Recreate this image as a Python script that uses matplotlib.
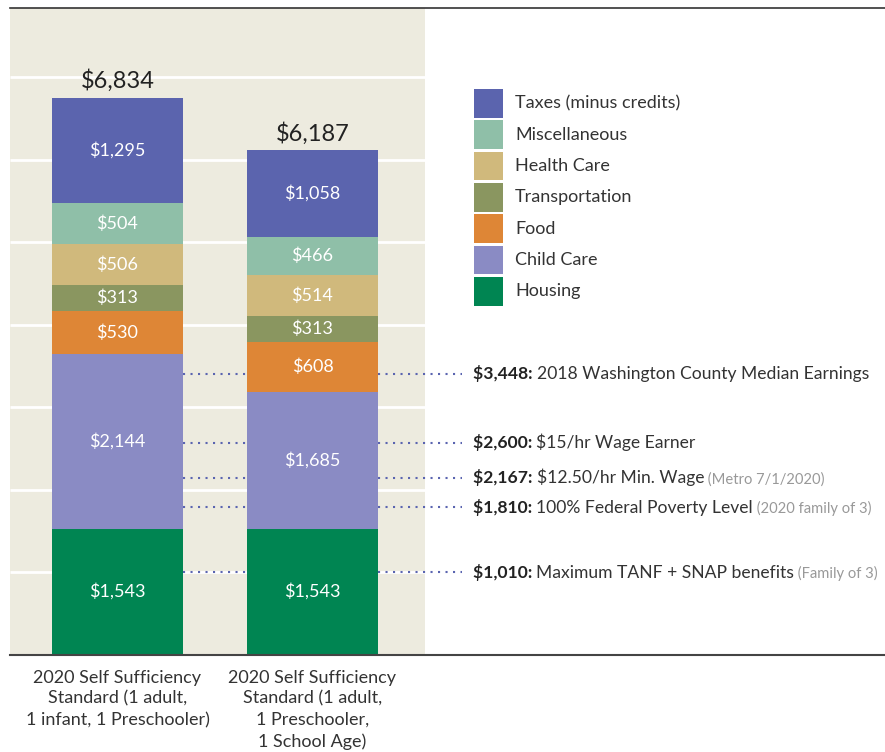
import matplotlib.pyplot as plt
from matplotlib.patches import Rectangle
import numpy as np

plt.rcParams['font.family'] = ['Lato', 'DejaVu Sans']

# data
groups = ["2020 Self Sufficiency\nStandard (1 adult,\n1 infant, 1 Preschooler)",
          "2020 Self Sufficiency\nStandard (1 adult,\n1 Preschooler,\n1 School Age)"]
categories = ["Housing", "Child Care", "Food", "Transportation",
              "Health Care", "Miscellaneous", "Taxes (minus credits)"]
bar1 = [1543, 2144, 530, 313, 506, 504, 1295]
bar2 = [1543, 1685, 608, 313, 514, 466, 1058]
totals = [6834, 6187]
colors = ["#008552", "#8a8bc4", "#de8636", "#8a9660",
          "#d0b97c", "#8fbfa8", "#5b64ae"]

ref_values = [3448, 2600, 2167, 1810, 1010]
ref_bold = ["$3,448:", "$2,600:", "$2,167:", "$1,810:", "$1,010:"]
ref_text = ["2018 Washington County Median Earnings", "$15/hr Wage Earner",
            "$12.50/hr Min. Wage", "100% Federal Poverty Level",
            "Maximum TANF + SNAP benefits"]
ref_note = ["", "", "(Metro 7/1/2020)", "(2020 family of 3)", "(Family of 3)"]

W, H = 885, 752
fig = plt.figure(figsize=(W / 100, H / 100), dpi=100)
ax = fig.add_axes([10 / W, (H - 654.5) / H, 875 / W, 646.5 / H])

x = np.arange(len(groups))
width = 0.672
ax.set_xlim(-0.551, 3.936)
ax.set_ylim(0, 7935)

# beige panel + white grid (decorative, slightly wider than $1000 steps)
beige_right = 1.577
grid_step = 1012
ax.axvspan(-0.551, beige_right, color="#edebdf", zorder=0, lw=0)
ax.hlines(np.arange(1, 8) * grid_step, -0.551, beige_right, color="white", lw=2, zorder=1)

# dotted reference lines
ax.hlines(ref_values, width / 2, 1.767, colors="#5a64b0", lw=1.5,
          linestyles=(0, (1, 2.6)), zorder=1.5)

# stacked bars
bottom = np.zeros(len(groups))
for cat, col, v1, v2 in zip(categories, colors, bar1, bar2):
    vals = np.array([v1, v2])
    bars = ax.bar(x, vals, width, bottom=bottom, color=col, zorder=2, lw=0)
    ax.bar_label(bars, labels=[f"${v:,}" for v in vals], label_type="center",
                 color="white", fontsize=13)
    bottom += vals

for xi, t, b in zip(x, totals, bottom):
    ax.annotate(f"${t:,}", (xi, b), xytext=(0, 4), textcoords="offset points",
                ha="center", va="bottom", fontsize=17, color="#222222")

# reference labels
lx = 1.823
for v, b, t, n in zip(ref_values, ref_bold, ref_text, ref_note):
    t1 = ax.text(lx, v, b + " ", fontsize=12.6, fontweight="bold", color="#222222",
                 va="center", ha="left")
    t2 = ax.annotate(t, xy=(1, 0), xycoords=t1, va="bottom", ha="left",
                     fontsize=12.6, color="#333333")
    if n:
        ax.annotate(" " + n, xy=(1, 0), xycoords=t2, va="bottom", ha="left",
                    fontsize=10.6, color="#999999")

# legend
for i, (cat, col) in enumerate(zip(categories[::-1], colors[::-1])):
    top = 89 + i * 31.3
    fig.add_artist(Rectangle((474 / W, (H - top - 28.7) / H), 28.7 / W, 28.7 / H,
                             transform=fig.transFigure, color=col, lw=0))
    fig.text(515 / W, (H - top - 14.5) / H, cat, fontsize=13, color="#333333",
             va="center", ha="left")

# axes styling
ax.set_xticks(x, groups, fontsize=13, color="#333333", linespacing=1.38)
ax.tick_params(axis="x", length=0, pad=11)
ax.set_yticks([])
for s in ["left", "right"]:
    ax.spines[s].set_visible(False)
ax.spines["top"].set_color("#333333")
ax.spines["top"].set_linewidth(1.2)
ax.spines["bottom"].set_color("#444444")
ax.spines["bottom"].set_linewidth(1.5)
ax.set_facecolor("white")

fig.savefig("out.png", dpi=100)
